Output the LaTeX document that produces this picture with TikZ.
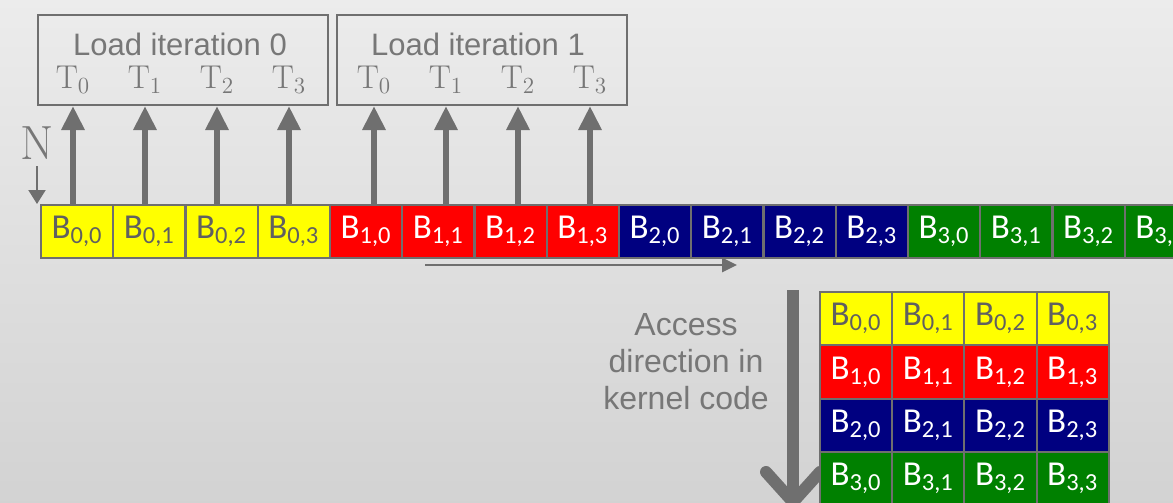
\documentclass[tikz,border=0pt]{standalone}
\usepackage{fontspec}
\usetikzlibrary{arrows.meta}
\newfontfamily\cellfont{Carlito}
\newfontfamily\labelfont{Liberation Sans}
\definecolor{linegray}{HTML}{6F6F6F}
\definecolor{textgray}{HTML}{777777}
\definecolor{blkfill0}{HTML}{FFFF00}
\definecolor{blkfill1}{HTML}{FF0000}
\definecolor{blkfill2}{HTML}{000080}
\definecolor{blkfill3}{HTML}{008000}
\definecolor{blktext0}{HTML}{606060}
\colorlet{blktext1}{white}
\colorlet{blktext2}{white}
\colorlet{blktext3}{white}
\tikzset{
  blk/.style = {shape=rectangle, draw=linegray, line width=1pt,
                anchor=north west, inner sep=0pt,
                minimum width=36.1pt, minimum height=26.5pt,
                fill=blkfill#1, text=blktext#1,
                font=\cellfont\fontsize{17.5}{20}\selectfont},
  iterbox/.style = {shape=rectangle, draw=linegray, line width=1pt,
                    anchor=north west, minimum width=145pt, minimum height=45pt},
  title/.style  = {font=\labelfont\fontsize{15.5}{18.5}\selectfont, text=textgray},
  thread/.style = {font=\fontsize{16.5}{19}\selectfont, text=textgray},
  load/.style   = {draw=linegray, line width=3pt, -{Triangle[width=11pt,length=12pt]}}
}
\begin{document}
\begin{tikzpicture}[x=0.5pt, y=-0.5pt]
  \useasboundingbox (0,0) rectangle (1173,503);
  \clip (0,0) rectangle (1173,503);
  \shade[top color=gray!15, bottom color=gray!35] (0,0) rectangle (1173,503);

  % one row in memory
  \foreach \k in {0,...,15} {
    \pgfmathtruncatemacro{\blkr}{\k/4}
    \pgfmathtruncatemacro{\blkc}{mod(\k,4)}
    \node[blk=\blkr] (r\blkr-\blkc) at ({40+72.25*\k},204) {B\textsubscript{\blkr,\blkc}};
  }

  % load iterations
  \node[iterbox] (iter0) at (37,14) {};
  \node[iterbox] (iter1) at (336,14) {};
  \node[title] (title0) at (180,44) {Load iteration 0};
  \node[title] (title1) at (478,44) {Load iteration 1};
  \foreach \t in {0,...,3} {
    \node[thread] (t0-\t) at ({73+72*\t},80) {T\textsubscript{\t}};
    \node[thread] (t1-\t) at ({374+72*\t},80) {T\textsubscript{\t}};
    \draw[load] (t0-\t |- r0-\t.north) -- (t0-\t |- iter0.south);
    \draw[load] (t1-\t |- r1-\t.north) -- (t1-\t |- iter1.south);
  }

  \node[font=\fontsize{24}{27}\selectfont, text=textgray] (nlabel) at (37,143) {N};
  \draw[draw=linegray, line width=1pt, -{Triangle[width=8.5pt,length=7pt]}]
    (nlabel.south) -- (nlabel.south |- r0-0.north);

  \coordinate (scanstart) at (425,265);
  \coordinate (scanend) at (737,265);
  \draw[draw=linegray, line width=1.3pt, -{Triangle[width=7pt,length=7.5pt]}]
    (scanstart) -- (scanend);

  % access direction
  \node[title, align=center, font=\labelfont\fontsize{16}{18.5}\selectfont]
    (accesstxt) at (686,362) {Access\\direction in\\kernel code};
  \coordinate (accesstop) at (793,290);
  \coordinate (accessend) at (793,508);
  \draw[draw=linegray, line width=6pt, -{Straight Barb[length=15pt,width=27pt,round]}]
    (accesstop) -- (accessend);

  % the tile as the kernel reads it
  \foreach \k in {0,...,15} {
    \pgfmathtruncatemacro{\blkr}{\k/4}
    \pgfmathtruncatemacro{\blkc}{mod(\k,4)}
    \node[blk=\blkr, minimum height=26.7pt] (m\blkr-\blkc) at ({819+72.2*\blkc},{291+53.3*\blkr}) {B\textsubscript{\blkr,\blkc}};
  }
\end{tikzpicture}
\end{document}
